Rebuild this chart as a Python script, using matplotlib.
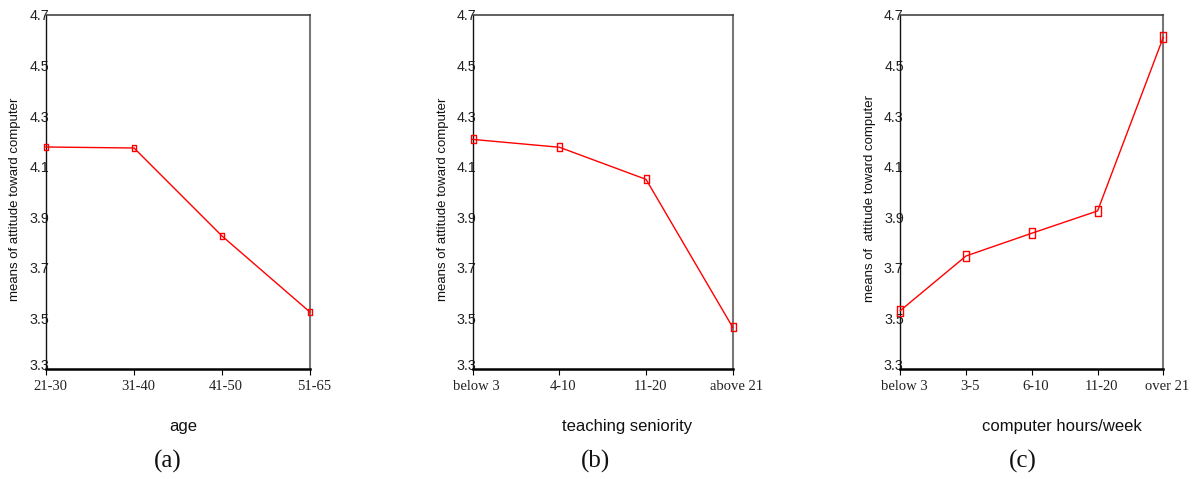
import matplotlib
matplotlib.use("Agg")
import matplotlib.pyplot as plt
from matplotlib.path import Path
from matplotlib.transforms import ScaledTranslation

# ---- data ----
age_cats = ["21-30", "31-40", "41-50", "51-65"]
age_vals = [4.178, 4.174, 3.826, 3.525]

seniority_cats = ["below 3", "4-10", "11-20", "above 21"]
seniority_vals = [4.208, 4.177, 4.050, 3.465]

hours_cats = ["below 3", "3-5", "6-10", "11-20", "over 21"]
hours_vals = [3.531, 3.747, 3.837, 3.925, 4.612]

y_ticks = [3.3, 3.5, 3.7, 3.9, 4.1, 4.3, 4.5, 4.7]
y_tick_labels = ["3.3", "3.5", "3.7", "3.9", "4.1", "4.3", "4.5", "4.7"]

ylabels = ["means of attitude toward computer",
           "means of attitude toward computer",
           "means of  attitude toward computer"]
xlabels = ["age", "teaching seniority", "computer hours/week"]
panel_labels = ["(a)", "(b)", "(c)"]

W, H = 1195, 479
fig = plt.figure(figsize=(W / 100, H / 100), dpi=100)

rect = Path([(-0.3, -0.5), (0.3, -0.5), (0.3, 0.5), (-0.3, 0.5), (-0.3, -0.5)],
            [Path.MOVETO, Path.LINETO, Path.LINETO, Path.LINETO, Path.CLOSEPOLY])

# pixel layout: (left, right, ylabel_x, xlabel_x, panel_x, marker size)
layout = [
    (46, 310, 15, 183, 168, 5.0),
    (472.7, 732.7, 442.7, 627, 596, 6.0),
    (900.3, 1163.3, 870, 1062, 1023, 6.5),
]
top_px, bot_px = 15, 369

data = [(age_cats, age_vals), (seniority_cats, seniority_vals), (hours_cats, hours_vals)]

serif = ["Liberation Serif", "DejaVu Serif"]
sans = ["Liberation Sans", "DejaVu Sans"]

for i, ((cats, vals), (l, r, ylx, xlx, plx, ms)) in enumerate(zip(data, layout)):
    ax = fig.add_axes([l / W, 1 - bot_px / H, (r - l) / W, (bot_px - top_px) / H])
    x = list(range(len(cats)))
    ax.plot(x, vals, color="#ff0000", lw=1.0, marker=rect, markersize=ms,
            markerfacecolor="none", markeredgecolor="#ff0000", markeredgewidth=1.0,
            clip_on=False, zorder=3)
    ax.set_xlim(0, len(cats) - 1)
    ax.set_ylim(3.3, 4.7)
    ax.set_yticks(y_ticks)
    ax.set_yticklabels(y_tick_labels, fontfamily=sans, fontsize=10.3, color="#222222")
    ax.tick_params(axis="y", length=0, pad=-2.5)
    ax.set_xticks(x)
    ax.set_xticklabels(cats, fontfamily=serif, fontsize=10.5, color="#222222")
    ax.tick_params(axis="x", length=4, width=0.8, direction="out", pad=4)
    off = ScaledTranslation(4 / 100, 0, fig.dpi_scale_trans)
    for lab in ax.get_xticklabels():
        lab.set_transform(lab.get_transform() + off)
    ylabs = ax.get_yticklabels()
    up = ScaledTranslation(0, 5 / 100, fig.dpi_scale_trans)
    ylabs[0].set_transform(ylabs[0].get_transform() + up)
    for lab in ylabs:
        lab.set_zorder(0)
    ax.spines["left"].set_color("#111111")
    ax.spines["left"].set_linewidth(1.0)
    ax.spines["bottom"].set_color("#000000")
    ax.spines["bottom"].set_linewidth(1.8)
    ax.spines["top"].set_color("#444444")
    ax.spines["top"].set_linewidth(1.2)
    ax.spines["right"].set_color("#777777")
    ax.spines["right"].set_linewidth(1.5)
    ax.set_zorder(1)

    fig.text(ylx / W, 1 - 199 / H, ylabels[i], rotation=90, ha="center", va="center",
             fontfamily=sans, fontsize=9.5, color="#111111")
    fig.text(xlx / W, 1 - 426 / H, xlabels[i], ha="center", va="center",
             fontfamily=sans, fontsize=12, color="#111111")
    fig.text(plx / W, 1 - 461 / H, panel_labels[i], ha="center", va="center",
             fontfamily=serif, fontsize=18, color="#111111")

fig.savefig("out.png", dpi=100)
